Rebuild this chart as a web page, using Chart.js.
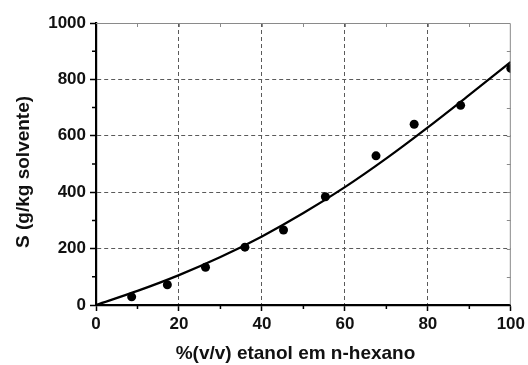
<!DOCTYPE html>
<html>
<head>
<meta charset="utf-8">
<script src="https://cdn.jsdelivr.net/npm/chart.js@4"></script>
<style>
    body { margin: 0; background: #fff; }
</style>
</head>
<body>
<canvas id="solubilidadeChart" width="528" height="365"></canvas>
<script>
    // pontos experimentais
    const etanol = [8.6, 17.2, 26.4, 35.9, 45.2, 55.3, 67.5, 76.7, 87.9, 100];
    const solubilidade = [29, 72, 134, 205, 266, 384, 529, 641, 708, 839];

    // curva ajustada
    const ajusteX = [0, 10, 20, 30, 40, 50, 60, 70, 80, 90, 100];
    const ajusteY = [0, 50, 106, 170, 243, 326, 418, 520, 630, 745, 862];

    const xTicks = [0, 20, 40, 60, 80, 100];
    const yTicks = [0, 200, 400, 600, 800, 1000];

    const familia = '"Liberation Sans", Arial, sans-serif';
    const fonteTick = { family: familia, size: 17, weight: 'bold' };
    const fonteTitulo = { family: familia, size: 19, weight: 'bold' };

    // moldura superior/direita e ticks menores
    const moldura = {
        id: 'moldura',
        afterDraw(chart) {
            const { ctx, chartArea: a, scales: { x, y } } = chart;
            ctx.save();
            ctx.strokeStyle = '#8a8a8a';
            ctx.lineWidth = 1;
            ctx.beginPath();
            ctx.moveTo(a.left, a.top + 0.5);
            ctx.lineTo(a.right - 0.5, a.top + 0.5);
            ctx.lineTo(a.right - 0.5, a.bottom);
            ctx.stroke();
            ctx.beginPath();
            for (let v = 10; v < 100; v += 10) {
                const px = Math.round(x.getPixelForValue(v)) + 0.5;
                ctx.moveTo(px, a.top);
                ctx.lineTo(px, a.top + 4);
            }
            for (let v = 100; v < 1000; v += 100) {
                const py = Math.round(y.getPixelForValue(v)) + 0.5;
                ctx.moveTo(a.right, py);
                ctx.lineTo(a.right - 4, py);
            }
            ctx.stroke();
            ctx.strokeStyle = '#000';
            ctx.lineWidth = 1.5;
            ctx.beginPath();
            for (let v = 10; v < 100; v += 20) {
                const px = x.getPixelForValue(v);
                ctx.moveTo(px, a.bottom);
                ctx.lineTo(px, a.bottom + 4);
            }
            for (let v = 100; v < 1000; v += 200) {
                const py = y.getPixelForValue(v);
                ctx.moveTo(a.left, py);
                ctx.lineTo(a.left - 4, py);
            }
            ctx.stroke();
            ctx.restore();
        }
    };

    const gradeCor = (c, max) => (c.tick && (c.tick.value === 0 || c.tick.value === max)) ? 'rgba(0,0,0,0)' : '#5a5a5a';

    new Chart(document.getElementById('solubilidadeChart'), {
        type: 'scatter',
        data: {
            datasets: [{
                data: etanol.map((v, i) => ({ x: v, y: solubilidade[i] })),
                backgroundColor: '#000',
                borderWidth: 0,
                pointRadius: 4.5,
                clip: 0
            }, {
                type: 'line',
                data: ajusteX.map((v, i) => ({ x: v, y: ajusteY[i] })),
                borderColor: '#000',
                borderWidth: 2.2,
                pointRadius: 0,
                cubicInterpolationMode: 'monotone',
                fill: false,
                clip: 0
            }]
        },
        options: {
            responsive: false,
            animation: false,
            devicePixelRatio: 1,
            layout: { padding: { top: 23, right: 15, left: 0, bottom: 0 } },
            plugins: { legend: { display: false }, tooltip: { enabled: false } },
            scales: {
                x: {
                    type: 'linear',
                    min: 0,
                    max: 100,
                    afterBuildTicks: s => { s.ticks = xTicks.map(v => ({ value: v })); },
                    afterFit: s => { s.height = 60; },
                    grid: { color: c => gradeCor(c, 100), lineWidth: 1, tickLength: 6, tickColor: '#000', tickWidth: 1.5 },
                    border: { color: '#000', width: 2.2, dash: [4, 3] },
                    ticks: { color: '#111', font: fonteTick, padding: 3, maxRotation: 0, callback: v => String(v) },
                    title: { display: true, text: '%(v/v) etanol em n-hexano   ', color: '#111', font: fonteTitulo, padding: { top: 0, bottom: 0 } }
                },
                y: {
                    min: 0,
                    max: 1000,
                    afterBuildTicks: s => { s.ticks = yTicks.map(v => ({ value: v })); },
                    afterFit: s => { s.width = 96; },
                    grid: { color: c => gradeCor(c, 1000), lineWidth: 1, tickLength: 6, tickColor: '#000', tickWidth: 1.5 },
                    border: { color: '#000', width: 2.2, dash: [4, 3] },
                    ticks: { color: '#111', font: fonteTick, padding: 4, callback: v => String(v) },
                    title: { display: true, text: 'S (g/kg solvente)   ', color: '#111', font: fonteTitulo, padding: { top: 12, bottom: 0 } }
                }
            }
        },
        plugins: [moldura]
    });
</script>
</body>
</html>
